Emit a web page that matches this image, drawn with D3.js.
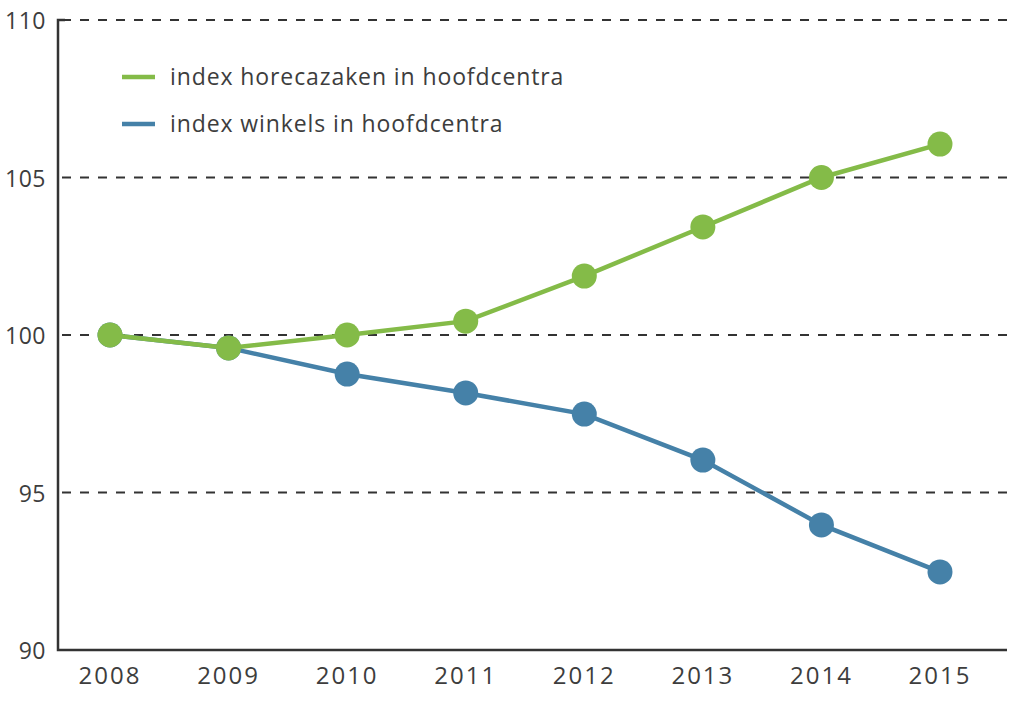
<!DOCTYPE html>
<html><head><meta charset="utf-8">
<script src="https://cdn.jsdelivr.net/npm/d3@7"></script>
<style>body{margin:0;background:#fff}svg{display:block}text{font-family:"Open Sans",sans-serif;fill:#3d3d3d;font-weight:500}</style>
</head><body>
<svg id="c" width="1024" height="707"></svg>
<script>
const years = [2008, 2009, 2010, 2011, 2012, 2013, 2014, 2015];
const horeca = [100, 99.59, 100, 100.44, 101.87, 103.43, 105.0, 106.06];
const winkels = [100, 99.59, 98.76, 98.16, 97.49, 96.03, 93.97, 92.48];
const yTicks = [90, 95, 100, 105, 110];
const seriesNames = ["index horecazaken in hoofdcentra", "index winkels in hoofdcentra"];
const colors = ["#84bb48", "#4581a8"];

const svg = d3.select("#c");
const x = d3.scalePoint().domain(years).range([110, 940]);
const y = d3.scaleLinear().domain([90, 110]).range([650, 20]);
const left = 58, right = 1007;

// grid
svg.append("g").selectAll("line").data(yTicks.filter(t => t > 90)).join("line")
  .attr("x1", left).attr("x2", right).attr("y1", d => y(d)).attr("y2", d => y(d))
  .attr("stroke", "#333").attr("stroke-width", 2).attr("stroke-dasharray", "9,9")
  .attr("stroke-dashoffset", -4);

// axes lines
svg.append("path").attr("d", `M${left+7},${y(110)}H${left}V${y(90)}H${right}`)
  .attr("fill", "none").attr("stroke", "#333").attr("stroke-width", 2.5);

// y labels
svg.append("g").selectAll("text").data(yTicks).join("text")
  .attr("x", 46).attr("y", d => y(d)).attr("dy", "0.4em").attr("text-anchor", "end")
  .attr("font-size", 23).attr("letter-spacing", 0.5).text(d => d);

// x labels
svg.append("g").selectAll("text").data(years).join("text")
  .attr("x", d => x(d)).attr("y", 684).attr("text-anchor", "middle")
  .attr("font-size", 24).attr("letter-spacing", 2).text(d => d);

const line = d3.line().x((d, i) => x(years[i])).y(d => y(d));
[winkels, horeca].forEach((s, k) => {
  const c = k === 0 ? colors[1] : colors[0];
  svg.append("path").datum(s).attr("d", line).attr("fill", "none")
    .attr("stroke", c).attr("stroke-width", 4.5);
  svg.append("g").selectAll("circle").data(s).join("circle")
    .attr("cx", (d, i) => x(years[i])).attr("cy", d => y(d)).attr("r", 12.5).attr("fill", c);
});

// legend
seriesNames.forEach((n, i) => {
  const ly = 77 + i * 47;
  svg.append("line").attr("x1", 122).attr("x2", 155).attr("y1", ly).attr("y2", ly)
    .attr("stroke", colors[i]).attr("stroke-width", 4.5);
  svg.append("text").attr("x", 170).attr("y", ly).attr("dy", "0.36em")
    .attr("font-size", 23).attr("letter-spacing", 0.9).text(n);
});
</script>
</body></html>
